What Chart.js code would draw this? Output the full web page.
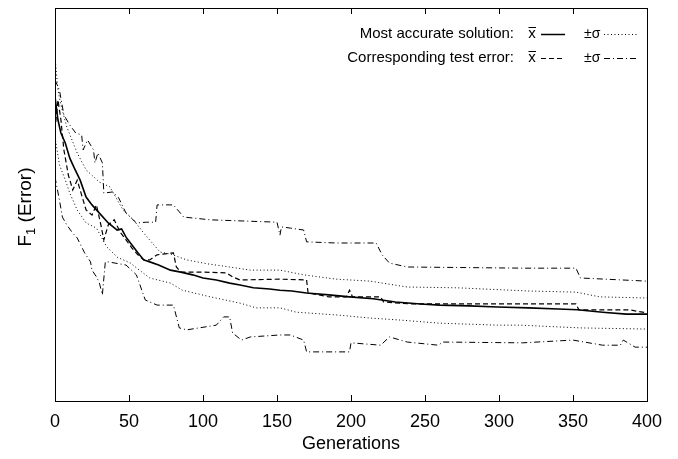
<!DOCTYPE html>
<html>
<head>
<meta charset="utf-8">
<script src="https://cdn.jsdelivr.net/npm/chart.js@4.4.0/dist/chart.umd.min.js"></script>
<style>
  html, body { margin: 0; padding: 0; background: #fff; }
  #contenedor { width: 678px; height: 459px; }
</style>
</head>
<body>
<div id="contenedor"><canvas id="grafico"></canvas></div>
<script>
// Valores (F1 en escala arbitraria 0-100, sin marcas en el eje)
const ticksX = [0, 50, 100, 150, 200, 250, 300, 350, 400];

// Solución más precisa: media
const genMedia = [0, 2, 4, 7, 10, 13, 17, 21, 25, 30, 36, 42, 45, 48, 52, 56, 60, 64, 70, 78, 85, 93, 100, 109, 118, 125, 134, 145, 152, 160, 170, 185, 199, 215, 230, 247, 260, 280, 299, 320, 340, 353, 370, 386, 400];
const valMedia = [77.4, 71.5, 68.2, 65.6, 61.8, 59.3, 56.2, 51.9, 49.9, 47.8, 45.3, 43.5, 43.8, 41.7, 39.7, 37.7, 35.9, 35.4, 34.6, 33.3, 32.8, 32.1, 31.3, 30.8, 30.0, 29.5, 28.8, 28.5, 28.2, 28.0, 27.5, 27.0, 26.5, 26.0, 25.2, 24.7, 24.4, 24.2, 23.9, 23.7, 23.4, 23.2, 22.6, 22.1, 22.1];

// Solución: +sigma / -sigma
const genSolSup = [0, 2, 4, 8, 15, 21, 30, 37, 46, 53, 60, 71, 78, 89, 103, 118, 132, 152, 168, 190, 213, 238, 272, 319, 352, 368, 400];
const valSolSup = [87.5, 79.1, 75.3, 69.7, 63.1, 58.8, 55.7, 54.5, 48.6, 46.1, 42.7, 37.9, 37.4, 35.9, 34.9, 34.1, 33.3, 33.3, 32.1, 31.0, 30.5, 29.0, 28.8, 28.0, 27.7, 26.5, 26.2];
const genSolInf = [0, 3, 7, 10, 15, 21, 28, 35, 42, 51, 57, 64, 78, 86, 105, 125, 136, 152, 163, 190, 213, 233, 260, 299, 314, 355, 400];
const valSolInf = [67.2, 60.1, 56.2, 52.9, 48.6, 45.3, 44.0, 39.2, 36.6, 35.1, 33.3, 31.3, 30.0, 28.2, 26.5, 24.9, 23.7, 23.7, 22.6, 21.9, 21.1, 20.6, 19.8, 19.3, 19.3, 18.6, 18.3];

// Error de test correspondiente: media
const genTest = [0, 2, 4, 6, 9, 12, 15, 18, 21, 25, 28, 31, 33, 36, 40, 44, 48, 52, 56, 60, 64, 69, 80, 82, 85, 100, 116, 120, 125, 152, 170, 171, 185, 197, 199, 201, 220, 222, 240, 316, 352, 354, 388, 400];
const valTest = [69.0, 76.6, 71.5, 63.9, 57.5, 53.7, 56.2, 52.4, 48.6, 47.3, 49.9, 44.8, 41.0, 44.8, 46.1, 43.0, 41.0, 38.9, 37.2, 35.9, 35.9, 37.2, 37.7, 34.1, 32.8, 32.8, 32.6, 31.6, 30.8, 31.0, 30.8, 27.5, 26.5, 26.5, 28.2, 26.5, 26.5, 25.2, 24.7, 24.7, 24.7, 23.2, 23.2, 22.4];

// Error de test: +sigma / -sigma
const genTestSup = [0, 3, 6, 10, 14, 18, 19, 22, 26, 27, 29, 32, 33, 39, 43, 48, 55, 62, 68, 69, 80, 87, 105, 150, 152, 153, 159, 168, 170, 190, 217, 221, 226, 238, 317, 352, 355, 400];
const valTestSup = [81.7, 79.1, 72.8, 70.2, 68.2, 67.7, 63.9, 66.4, 63.9, 60.6, 63.1, 60.6, 52.9, 53.2, 51.7, 47.8, 45.3, 45.5, 45.5, 49.9, 49.9, 46.8, 46.1, 45.5, 42.2, 44.3, 44.0, 43.5, 40.5, 40.2, 40.2, 37.2, 35.1, 34.1, 33.8, 33.8, 31.3, 30.5];
const genTestInf = [0, 3, 5, 8, 12, 15, 18, 20, 24, 25, 28, 30, 32, 34, 36, 48, 55, 61, 69, 80, 84, 89, 109, 114, 118, 120, 126, 132, 152, 159, 168, 170, 199, 200, 220, 226, 238, 259, 262, 316, 350, 370, 382, 384, 392, 400];
const valTestInf = [57.0, 51.1, 46.8, 44.8, 42.7, 41.5, 39.2, 37.7, 35.4, 33.3, 31.6, 30.0, 27.0, 35.4, 35.4, 34.6, 32.1, 25.7, 24.4, 24.4, 18.6, 18.1, 19.3, 21.4, 21.4, 17.3, 15.5, 16.3, 16.8, 16.8, 15.5, 12.5, 12.5, 14.8, 14.2, 16.3, 15.0, 14.2, 15.0, 14.8, 15.5, 14.2, 14.2, 15.5, 13.7, 13.7];

const fuente = "'Liberation Sans', Arial, Helvetica, sans-serif";
const trazoDash = [5, 3];
const trazoPuntos = [1, 2.5];
const trazoDashPunto = [6, 3, 1, 3];

const puntos = (gens, vals) => gens.map((g, i) => ({ x: g, y: vals[i] }));

const serie = (gens, vals, ancho, dash) => ({
    data: puntos(gens, vals),
    borderColor: '#000',
    borderWidth: ancho,
    borderDash: dash,
    pointRadius: 0,
    tension: 0,
    fill: false
});

// Marco, marcas hacia dentro, título del eje Y y leyenda
const decoracion = {
    id: 'decoracion',
    afterDraw(chart) {
        const ctx = chart.ctx;
        const area = chart.chartArea;
        const escalaX = chart.scales.x;
        ctx.save();
        ctx.strokeStyle = '#000';
        ctx.lineWidth = 1;
        ctx.setLineDash([]);
        ctx.strokeRect(Math.round(area.left) + 0.5, Math.round(area.top) + 0.5,
            Math.round(area.right - area.left), Math.round(area.bottom - area.top));

        ticksX.forEach(v => {
            const px = Math.round(escalaX.getPixelForValue(v)) + 0.5;
            ctx.beginPath();
            ctx.moveTo(px, area.bottom);
            ctx.lineTo(px, area.bottom - 6);
            ctx.moveTo(px, area.top);
            ctx.lineTo(px, area.top + 6);
            ctx.stroke();
        });

        // Título del eje Y: F1 (Error) con subíndice
        ctx.fillStyle = '#000';
        ctx.translate(31, 207);
        ctx.rotate(-Math.PI / 2);
        ctx.textBaseline = 'alphabetic';
        ctx.font = '19px ' + fuente;
        const wF = ctx.measureText('F').width;
        ctx.font = '13px ' + fuente;
        const w1 = ctx.measureText('1').width;
        ctx.font = '19px ' + fuente;
        const wResto = ctx.measureText(' (Error)').width;
        let x0 = -(wF + w1 + wResto) / 2;
        ctx.textAlign = 'left';
        ctx.fillText('F', x0, 0);
        ctx.font = '13px ' + fuente;
        ctx.fillText('1', x0 + wF, 4);
        ctx.font = '19px ' + fuente;
        ctx.fillText(' (Error)', x0 + wF + w1, 0);
        ctx.setTransform(1, 0, 0, 1, 0, 0);

        // Leyenda
        const filas = [
            { texto: 'Most accurate solution:', y: 34, media: [], sigma: trazoPuntos, ancho: 1.5 },
            { texto: 'Corresponding test error:', y: 58, media: trazoDash, sigma: trazoDashPunto, ancho: 1 }
        ];
        filas.forEach(f => {
            ctx.font = '15px ' + fuente;
            ctx.fillStyle = '#000';
            ctx.textAlign = 'right';
            ctx.textBaseline = 'middle';
            ctx.fillText(f.texto, 514, f.y);
            ctx.textAlign = 'center';
            ctx.fillText('x', 532, f.y);
            ctx.beginPath();
            ctx.setLineDash([]);
            ctx.lineWidth = 1;
            ctx.moveTo(528.5, f.y - 6.5);
            ctx.lineTo(536, f.y - 6.5);
            ctx.stroke();

            ctx.beginPath();
            ctx.setLineDash(f.media);
            ctx.lineWidth = f.ancho;
            ctx.moveTo(541, f.y + 0.5);
            ctx.lineTo(565, f.y + 0.5);
            ctx.stroke();

            ctx.font = '14px ' + fuente;
            ctx.textAlign = 'left';
            ctx.fillText('±σ', 584, f.y);
            ctx.beginPath();
            ctx.setLineDash(f.sigma);
            ctx.lineWidth = 1;
            ctx.moveTo(604, f.y + 0.5);
            ctx.lineTo(639, f.y + 0.5);
            ctx.stroke();
        });
        ctx.restore();
    }
};

const ctx = document.getElementById('grafico').getContext('2d');
new Chart(ctx, {
    type: 'line',
    data: {
        datasets: [
            serie(genTestInf, valTestInf, 1, trazoDashPunto),
            serie(genTestSup, valTestSup, 1, trazoDashPunto),
            serie(genSolInf, valSolInf, 1, trazoPuntos),
            serie(genSolSup, valSolSup, 1, trazoPuntos),
            serie(genTest, valTest, 1.2, trazoDash),
            serie(genMedia, valMedia, 1.6, [])
        ]
    },
    options: {
        responsive: true,
        maintainAspectRatio: false,
        animation: false,
        layout: { padding: { top: 8, right: 31, left: 55, bottom: 0 } },
        plugins: {
            legend: { display: false },
            tooltip: { enabled: false }
        },
        scales: {
            x: {
                type: 'linear',
                min: 0,
                max: 400,
                grid: { display: false, drawTicks: false },
                border: { display: false },
                afterFit: escala => { escala.height = 58; },
                afterBuildTicks: escala => { escala.ticks = ticksX.map(v => ({ value: v })); },
                ticks: {
                    padding: 10,
                    color: '#000',
                    maxRotation: 0,
                    font: { family: fuente, size: 18 }
                },
                title: {
                    display: true,
                    text: 'Generations',
                    color: '#000',
                    padding: { top: 3 },
                    font: { family: fuente, size: 18 }
                }
            },
            y: {
                display: false,
                min: 0,
                max: 100
            }
        }
    },
    plugins: [decoracion]
});
</script>
</body>
</html>
